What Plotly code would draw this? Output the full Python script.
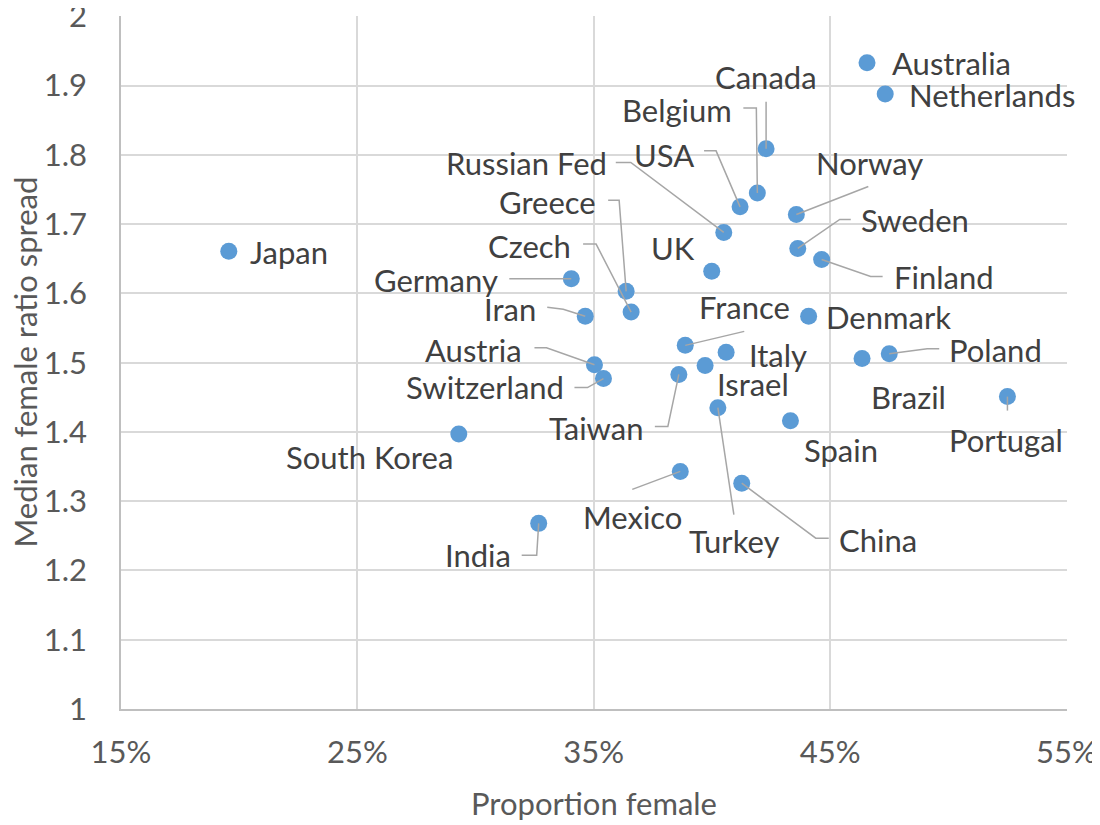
# %%
import plotly.graph_objects as go

# %%
# Values
countries = ["Japan", "Australia", "Netherlands", "Canada", "Belgium", "USA",
             "Russian Fed", "Norway", "Sweden", "Finland", "UK", "Germany",
             "Greece", "Czech", "Iran", "Denmark", "France", "Italy", "Poland",
             "Brazil", "Israel", "Austria", "Switzerland", "Taiwan", "Portugal",
             "Turkey", "Spain", "South Korea", "Mexico", "China", "India"]
prop_female = [0.1956, 0.4656, 0.4733, 0.4229, 0.4192, 0.4119,
               0.4050, 0.4357, 0.4363, 0.4464, 0.3999, 0.3405,
               0.3637, 0.3658, 0.3464, 0.4409, 0.3887, 0.4060, 0.4750,
               0.4635, 0.3971, 0.3503, 0.3541, 0.3860, 0.5250,
               0.4025, 0.4332, 0.2929, 0.3866, 0.4126, 0.3267]
ratio_spread = [1.661, 1.933, 1.888, 1.809, 1.745, 1.725,
                1.688, 1.714, 1.665, 1.649, 1.632, 1.621,
                1.603, 1.573, 1.567, 1.567, 1.525, 1.515, 1.513,
                1.506, 1.496, 1.497, 1.477, 1.483, 1.451,
                1.435, 1.416, 1.397, 1.343, 1.326, 1.268]

x_ticks = [0.15, 0.25, 0.35, 0.45, 0.55]
y_ticks = [1, 1.1, 1.2, 1.3, 1.4, 1.5, 1.6, 1.7, 1.8, 1.9, 2]
y_tick_text = ["1", "1.1", "1.2", "1.3", "1.4", "1.5", "1.6", "1.7", "1.8", "1.9", "2"]

# %%
# Label placement in pixels from the point: anchor, dx (right), dy (down),
# and the leader line as pixel offsets
placement = {
    "Japan": ("left", 21, 1, None),
    "Australia": ("left", 25, 0, None),
    "Netherlands": ("left", 24, 1, None),
    "Canada": ("center", 0, -72, [(0, -47), (0, 0)]),
    "Belgium": ("right", -25, -83, [(-14, -85), (-1, -85), (0, 0)]),
    "USA": ("right", -46, -52, [(-36, -56), (-24, -56), (0, 0)]),
    "Russian Fed": ("right", -117, -69, [(-108, -70), (-93, -70), (0, 0)]),
    "Norway": ("left", 20, -51, [(72, -28), (0, 0)]),
    "Sweden": ("left", 63, -28, [(53, -29), (42, -29), (0, 0)]),
    "Finland": ("left", 72, 18, [(0, 0), (49, 17), (61, 17)]),
    "UK": ("right", -17, -23, None),
    "Germany": ("right", -73, 1, [(-62, 0), (0, 0)]),
    "Greece": ("right", -30, -89, [(-18, -91), (-7, -91), (0, 0)]),
    "Czech": ("right", -60, -66, [(-48, -68), (-35, -68), (0, 0)]),
    "Iran": ("right", -49, -7, [(-38, -9), (-22, -7), (0, 0)]),
    "Denmark": ("left", 17, 1, None),
    "France": ("center", 59, -38, [(0, 0), (59, -14)]),
    "Italy": ("left", 23, 3, None),
    "Poland": ("left", 60, -4, [(0, 0), (38, -5), (50, -5)]),
    "Brazil": ("center", 46, 38, None),
    "Israel": ("center", 48, 19, None),
    "Austria": ("right", -72, -15, [(-60, -17), (-48, -17), (0, 0)]),
    "Switzerland": ("right", -39, 8, [(-29, 9), (-16, 9), (0, 0)]),
    "Taiwan": ("right", -35, 54, [(-24, 52), (-11, 52), (0, 0)]),
    "Portugal": ("center", -1, 43, [(0, 0), (0, 14)]),
    "Turkey": ("center", 16, 133, [(0, 0), (16, 107)]),
    "Spain": ("center", 51, 29, None),
    "South Korea": ("right", -6, 23, None),
    "Mexico": ("center", -48, 46, [(0, 0), (-48, 18)]),
    "China": ("left", 97, 57, [(0, 0), (74, 55), (87, 55)]),
    "India": ("right", -28, 32, [(0, 0), (-2, 32), (-17, 32)]),
}

FONT = "Lato"
fs = 31

# %%
fig = go.Figure()
fig.add_trace(go.Scatter(x=prop_female, y=ratio_spread, mode="markers",
                         marker=dict(size=17, color="#5B9BD5"),
                         text=countries, hoverinfo="text"))

annotations = []
shapes = []
for name, xv, yv in zip(countries, prop_female, ratio_spread):
    anchor, dx, dy, leader = placement[name]
    pad = {"left": -2, "right": 2, "center": 0}[anchor]
    annotations.append(dict(x=xv, y=yv, xref="x", yref="y", text=name,
                            showarrow=False, xanchor=anchor, yanchor="middle",
                            xshift=dx + pad, yshift=-dy,
                            font=dict(family=FONT, size=fs, color="#404040")))
    if leader:
        path = "M" + " L".join(f"{px},{-py}" for px, py in leader)
        shapes.append(dict(type="path", path=path, xref="x", yref="y",
                           xsizemode="pixel", ysizemode="pixel",
                           xanchor=xv, yanchor=yv,
                           line=dict(color="#A6A6A6", width=1.5)))

# y axis title as an annotation so it can sit closer to the page edge
annotations.append(dict(x=0, y=0.5, xref="paper", yref="paper",
                        text="Median female ratio spread", textangle=-90,
                        showarrow=False, xanchor="center", yanchor="middle",
                        xshift=-97,
                        font=dict(family=FONT, size=fs, color="#595959")))

# the page body adds an 8px margin, so the margins are shifted by that much
fig.update_layout(
    width=1100, height=825,
    margin=dict(l=113, r=41, t=8, b=124),
    plot_bgcolor="white", paper_bgcolor="white",
    showlegend=False,
    font=dict(family=FONT, size=fs, color="#595959"),
    annotations=annotations, shapes=shapes,
)
fig.update_xaxes(range=[0.15, 0.5502], tickvals=x_ticks, tickformat=".0%",
                 showgrid=True, gridcolor="#D9D9D9", gridwidth=1.5,
                 showline=True, linecolor="#BFBFBF", linewidth=1.5,
                 zeroline=False, ticks="", ticklabelstandoff=15,
                 automargin=False, ticklabeloverflow="allow",
                 title=dict(text="Proportion female", standoff=24,
                            font=dict(family=FONT, size=fs, color="#595959")))
fig.update_yaxes(range=[1, 2.0005], tickvals=y_ticks, ticktext=y_tick_text,
                 showgrid=True, gridcolor="#D9D9D9", gridwidth=1.5,
                 showline=True, linecolor="#BFBFBF", linewidth=1.5,
                 zeroline=False, ticks="", ticklabelstandoff=26,
                 automargin=False, ticklabeloverflow="allow")

fig.write_html("out.html")
